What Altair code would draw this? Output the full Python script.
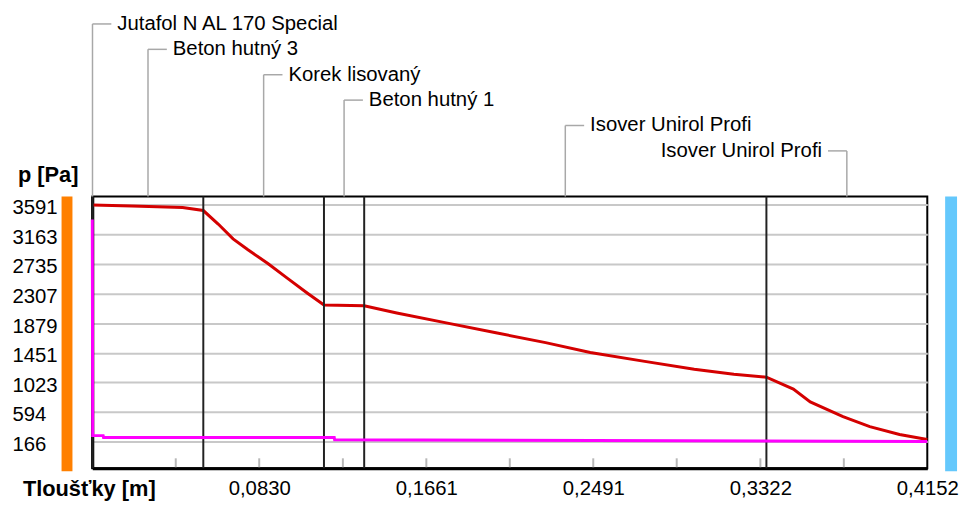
import altair as alt
import pandas as pd

# ---------------- data ----------------
layer_names = ["Jutafol N AL 170 Special", "Beton hutný 3", "Korek lisovaný",
               "Beton hutný 1", "Isover Unirol Profi", "Isover Unirol Profi"]
layer_thickness = [0.0002, 0.055, 0.06, 0.02, 0.2, 0.08]

red_x = [0.0, 0.0197, 0.0449, 0.0552, 0.0626, 0.0700, 0.0774, 0.0873, 0.0971,
         0.1070, 0.1152, 0.1352, 0.1514, 0.1760, 0.2007, 0.2254, 0.2476, 0.2747,
         0.2993, 0.3190, 0.3352, 0.3486, 0.3570, 0.3733, 0.3866, 0.4014, 0.4152]
red_p = [3591, 3577, 3555, 3510, 3314, 3100, 2942, 2742, 2527,
         2313, 2141, 2130, 2027, 1883, 1740, 1597, 1454, 1325,
         1211, 1139, 1096, 924, 738, 524, 381, 266, 195]

mag_x = [0.0, 0.0002, 0.0054, 0.0056, 0.1203, 0.1205, 0.4152]
mag_p = [3380, 250, 250, 222, 222, 190, 166]

y_tick_values = [166, 594, 1023, 1451, 1879, 2307, 2735, 3163, 3591]
x_tick_values = [0.0830, 0.1661, 0.2491, 0.3322, 0.4152]
minor_ticks = [0.0415, 0.0830, 0.1246, 0.1661, 0.2076, 0.2491, 0.2906, 0.3322, 0.3737]

# ---------------- derived tables ----------------
ends = []
acc = 0.0
for t in layer_thickness:
    acc += t
    ends.append(round(acc, 6))
starts = [0.0] + ends[:-1]
mids = [(a + b) / 2 for a, b in zip(starts, ends)]

red_df = pd.DataFrame({"x": red_x, "p": red_p})
mag_df = pd.DataFrame({"x": mag_x, "p": mag_p})
bound_df = pd.DataFrame({"x": ends[:-1]})
minor_df = pd.DataFrame({"x": minor_ticks})
lab_df = pd.DataFrame({
    "name": layer_names,
    "x": mids,
    "ypix": [-174 + 25.6 * i for i in range(len(layer_names))],
})
lab_right = lab_df.iloc[:-1]
lab_left = lab_df.iloc[-1:]

W, H = 842, 274
FONT = "Liberation Sans"
xs = alt.Scale(domain=[0, 0.4152], nice=False, zero=False)
ys = alt.Scale(domain=[-222, 3713], nice=False, zero=False)

x_axis = alt.Axis(values=x_tick_values, title=None, grid=False, ticks=False,
                  domain=True, domainColor="black", domainWidth=3,
                  labelExpr="replace(format(datum.value, '.4f'), '.', ',')",
                  labelFlush=False, labelOverlap=False, labelBound=False,
                  labelBaseline="middle", labelPadding=20, labelFontSize=20.5,
                  labelColor="black", labelFont=FONT)
y_axis = alt.Axis(values=y_tick_values, title=None, grid=True, gridColor="#c8c8c8",
                  gridWidth=2, ticks=False, domain=True, domainColor="black",
                  domainWidth=3, labelAlign="left", labelBaseline="middle",
                  labelPadding=81, labelOffset=3, labelFontSize=20.5, format="d",
                  labelColor="black", labelFont=FONT, labelOverlap=False)


def X(field="x"):
    return alt.X(f"{field}:Q", scale=xs, axis=x_axis)


def Y(field="p"):
    return alt.Y(f"{field}:Q", scale=ys, axis=y_axis)


def YPIX():
    return alt.Y("ypix:Q", scale=None, axis=None)


bounds = alt.Chart(bound_df).mark_rule(color="#222222", strokeWidth=2).encode(x=X())

minor = alt.Chart(minor_df).mark_rule(color="#b8b8b8", strokeWidth=2).encode(
    x=X(), y=alt.value(264), y2=alt.value(273))

mag = alt.Chart(mag_df).mark_line(color="#ff00ff", strokeWidth=3).encode(
    x=X(), y=Y(), order="x:Q")

red = alt.Chart(red_df).mark_line(color="#d40000", strokeWidth=3).encode(
    x=X(), y=Y(), order="x:Q")

conn_v = alt.Chart(lab_df).mark_rule(color="#a8a8a8", strokeWidth=1.5).encode(
    x=X(), y=YPIX(), y2=alt.value(0))

conn_hr = alt.Chart(lab_right).mark_rule(color="#a8a8a8", strokeWidth=1.5, x2Offset=19).encode(
    x=X(), x2=alt.X2("x:Q"), y=YPIX())

conn_hl = alt.Chart(lab_left).mark_rule(color="#a8a8a8", strokeWidth=1.5, x2Offset=-19).encode(
    x=X(), x2=alt.X2("x:Q"), y=YPIX())

txt_r = alt.Chart(lab_right).mark_text(align="left", baseline="middle", dx=25,
                                       fontSize=20.5, font=FONT, color="black").encode(
    x=X(), y=YPIX(), text="name:N")

txt_l = alt.Chart(lab_left).mark_text(align="right", baseline="middle", dx=-25,
                                      fontSize=20.5, font=FONT, color="black").encode(
    x=X(), y=YPIX(), text="name:N")

orange = alt.Chart(pd.DataFrame({"a": [0]})).mark_rect(color="#ff8000").encode(
    x=alt.value(-31), x2=alt.value(-20), y=alt.value(0), y2=alt.value(277))
blue = alt.Chart(pd.DataFrame({"a": [0]})).mark_rect(color="#64c8fc").encode(
    x=alt.value(860), x2=alt.value(872), y=alt.value(0), y2=alt.value(277))

ytitle = alt.Chart(pd.DataFrame({"t": ["p [Pa]"]})).mark_text(
    align="left", baseline="middle", fontSize=22, fontWeight="bold", font=FONT,
    color="black").encode(x=alt.value(-75), y=alt.value(-22), text="t:N")
xtitle = alt.Chart(pd.DataFrame({"t": ["Tloušťky [m]"]})).mark_text(
    align="left", baseline="middle", fontSize=22, fontWeight="bold", font=FONT,
    color="black").encode(x=alt.value(-70), y=alt.value(295), text="t:N")

chart = alt.layer(
    red, bounds, minor, mag, conn_v, conn_hr, conn_hl, txt_r, txt_l,
    orange, blue, ytitle, xtitle
).properties(
    width=W, height=H, autosize="none",
    padding={"left": 85, "top": 188, "right": 35, "bottom": 36},
    background="white",
).configure(font=FONT).configure_view(stroke="black", strokeWidth=2)

chart.save("out.html", embed_options={"renderer": "svg", "actions": False})
